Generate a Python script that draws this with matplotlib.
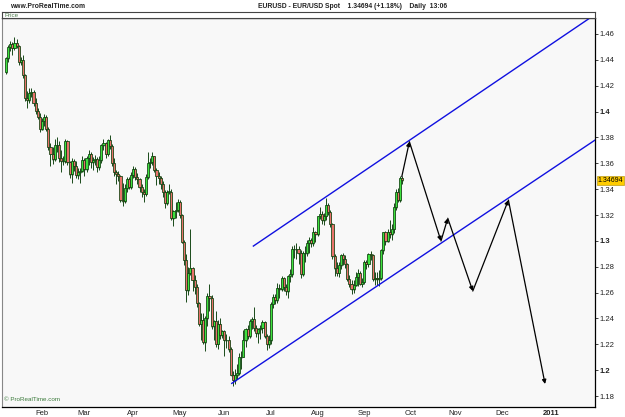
import matplotlib
matplotlib.use("Agg")
import matplotlib.pyplot as plt
import numpy as np
import pandas as pd

# ---------------- data ----------------
start_date = "2010-01-07"
end_date = "2010-09-27"

opens = [
    # Jan
    1.4305, 1.4415, 1.4500, 1.4520, 1.4495, 1.4530, 1.4505, 1.4385, 1.4400, 1.4280, 1.4105, 1.4090, 1.4140, 1.4150, 1.4070, 1.4005, 1.3960,
    # Feb
    1.3865, 1.3925, 1.3960, 1.3865, 1.3725, 1.3675, 1.3630, 1.3740, 1.3745, 1.3640, 1.3620, 1.3615, 1.3770, 1.3610, 1.3515, 1.3615, 1.3580, 1.3510, 1.3530, 1.3540,
    # Mar
    1.3625, 1.3555, 1.3640, 1.3675, 1.3610, 1.3625, 1.3630, 1.3570, 1.3625, 1.3740, 1.3755, 1.3675, 1.3780, 1.3735, 1.3600, 1.3530, 1.3520, 1.3500, 1.3315, 1.3310, 1.3410, 1.3480, 1.3415,
    # Apr
    1.3510, 1.3555, 1.3495, 1.3475, 1.3415, 1.3375, 1.3365, 1.3495, 1.3605, 1.3610, 1.3655, 1.3550, 1.3505, 1.3490, 1.3440, 1.3375, 1.3290, 1.3380, 1.3380, 1.3175, 1.3230, 1.3240,
    # May
    1.3300, 1.3200, 1.2990, 1.2855, 1.2620, 1.2755, 1.2790, 1.2700, 1.2640, 1.2520, 1.2360, 1.2390, 1.2215, 1.2400, 1.2570, 1.2560, 1.2340, 1.2380, 1.2205, 1.2360, 1.2270,
    # Jun
    1.2300, 1.2230, 1.2230, 1.2160, 1.1965, 1.1925, 1.1965, 1.1975, 1.2100, 1.2105, 1.2230, 1.2320, 1.2265, 1.2380, 1.2395, 1.2325, 1.2285, 1.2315, 1.2330, 1.2375, 1.2265, 1.2200,
    # Jul
    1.2230, 1.2515, 1.2565, 1.2545, 1.2635, 1.2625, 1.2710, 1.2640, 1.2610, 1.2725, 1.2745, 1.2935, 1.2940, 1.2935, 1.2905, 1.2745, 1.2910, 1.2905, 1.2980, 1.3010, 1.2985, 1.3065,
    # Aug
    1.3050, 1.3190, 1.3210, 1.3160, 1.3195, 1.3275, 1.3220, 1.3130, 1.2880, 1.2790, 1.2755, 1.2815, 1.2890, 1.2860, 1.2820, 1.2705, 1.2665, 1.2630, 1.2660, 1.2720, 1.2750, 1.2670,
    # Sep
    1.2685, 1.2835, 1.2825, 1.2895, 1.2890, 1.2705, 1.2715, 1.2705, 1.2710, 1.2930, 1.3065, 1.3000, 1.3065, 1.3050, 1.3095, 1.3260, 1.3375, 1.3315, 1.3490,
]
highs = [
    1.4425, 1.4515, 1.4545, 1.4540, 1.4580, 1.4560, 1.4515, 1.4420, 1.4440, 1.4290, 1.4160, 1.4180, 1.4185, 1.4170, 1.4105, 1.4030, 1.3990,
    1.3950, 1.3985, 1.3970, 1.3880, 1.3755, 1.3725, 1.3785, 1.3800, 1.3770, 1.3700, 1.3660, 1.3785, 1.3780, 1.3620, 1.3640, 1.3635, 1.3620, 1.3560, 1.3560, 1.3660,
    1.3640, 1.3660, 1.3700, 1.3690, 1.3650, 1.3665, 1.3645, 1.3660, 1.3750, 1.3790, 1.3765, 1.3790, 1.3820, 1.3750, 1.3640, 1.3545, 1.3540, 1.3510, 1.3450, 1.3440, 1.3495, 1.3495, 1.3530,
    1.3580, 1.3570, 1.3525, 1.3485, 1.3440, 1.3400, 1.3515, 1.3690, 1.3640, 1.3690, 1.3660, 1.3560, 1.3530, 1.3500, 1.3460, 1.3390, 1.3395, 1.3440, 1.3405, 1.3240, 1.3300, 1.3325,
    1.3320, 1.3210, 1.3010, 1.2900, 1.2800, 1.3094, 1.2800, 1.2740, 1.2670, 1.2530, 1.2440, 1.2440, 1.2420, 1.2600, 1.2670, 1.2580, 1.2390, 1.2455, 1.2390, 1.2400, 1.2310,
    1.2310, 1.2280, 1.2265, 1.2180, 1.1990, 1.2010, 1.2050, 1.2130, 1.2150, 1.2310, 1.2330, 1.2350, 1.2395, 1.2410, 1.2487, 1.2350, 1.2330, 1.2350, 1.2390, 1.2380, 1.2280, 1.2270,
    1.2530, 1.2590, 1.2590, 1.2675, 1.2665, 1.2730, 1.2720, 1.2665, 1.2735, 1.2780, 1.2960, 1.2970, 1.2985, 1.2960, 1.2930, 1.2920, 1.2960, 1.3010, 1.3030, 1.3020, 1.3110, 1.3080,
    1.3195, 1.3265, 1.3230, 1.3215, 1.3333, 1.3290, 1.3240, 1.3135, 1.2900, 1.2840, 1.2835, 1.2900, 1.2905, 1.2890, 1.2830, 1.2740, 1.2700, 1.2700, 1.2760, 1.2780, 1.2770, 1.2710,
    1.2850, 1.2850, 1.2910, 1.2920, 1.2895, 1.2760, 1.2760, 1.2775, 1.2940, 1.3070, 1.3080, 1.3090, 1.3160, 1.3130, 1.3290, 1.3400, 1.3410, 1.3500, 1.3500,
]
lows = [
    1.4290, 1.4380, 1.4470, 1.4440, 1.4475, 1.4490, 1.4360, 1.4360, 1.4260, 1.4080, 1.4030, 1.4070, 1.4110, 1.4040, 1.3980, 1.3940, 1.3840,
    1.3860, 1.3890, 1.3850, 1.3700, 1.3580, 1.3595, 1.3620, 1.3690, 1.3610, 1.3530, 1.3590, 1.3600, 1.3590, 1.3490, 1.3445, 1.3540, 1.3490, 1.3480, 1.3445, 1.3530,
    1.3500, 1.3530, 1.3590, 1.3560, 1.3550, 1.3590, 1.3530, 1.3550, 1.3600, 1.3700, 1.3640, 1.3660, 1.3710, 1.3580, 1.3500, 1.3440, 1.3460, 1.3300, 1.3270, 1.3295, 1.3380, 1.3400, 1.3405,
    1.3490, 1.3470, 1.3440, 1.3380, 1.3340, 1.3300, 1.3350, 1.3480, 1.3560, 1.3590, 1.3530, 1.3430, 1.3440, 1.3400, 1.3340, 1.3255, 1.3280, 1.3360, 1.3160, 1.3115, 1.3180, 1.3220,
    1.3180, 1.2980, 1.2815, 1.2530, 1.2580, 1.2740, 1.2610, 1.2590, 1.2490, 1.2340, 1.2235, 1.2200, 1.2145, 1.2340, 1.2460, 1.2320, 1.2235, 1.2180, 1.2160, 1.2240, 1.2250,
    1.2110, 1.2170, 1.2140, 1.1960, 1.1876, 1.1890, 1.1930, 1.1960, 1.2010, 1.2100, 1.2180, 1.2240, 1.2250, 1.2320, 1.2300, 1.2260, 1.2210, 1.2240, 1.2290, 1.2250, 1.2155, 1.2170,
    1.2200, 1.2480, 1.2510, 1.2520, 1.2560, 1.2610, 1.2610, 1.2580, 1.2560, 1.2680, 1.2720, 1.2870, 1.2860, 1.2820, 1.2710, 1.2730, 1.2840, 1.2880, 1.2910, 1.2950, 1.2960, 1.2990,
    1.3040, 1.3170, 1.3130, 1.3120, 1.3160, 1.3200, 1.3110, 1.2860, 1.2730, 1.2730, 1.2720, 1.2780, 1.2810, 1.2790, 1.2690, 1.2640, 1.2588, 1.2600, 1.2650, 1.2650, 1.2660, 1.2640,
    1.2670, 1.2780, 1.2800, 1.2850, 1.2690, 1.2660, 1.2660, 1.2650, 1.2700, 1.2900, 1.2970, 1.2990, 1.3020, 1.3010, 1.3060, 1.3240, 1.3300, 1.3300, 1.3440,
]
closes = [
    1.4415, 1.4500, 1.4520, 1.4495, 1.4530, 1.4505, 1.4385, 1.4400, 1.4280, 1.4105, 1.4090, 1.4140, 1.4150, 1.4070, 1.4005, 1.3960, 1.3865,
    1.3925, 1.3960, 1.3865, 1.3725, 1.3675, 1.3630, 1.3740, 1.3745, 1.3640, 1.3620, 1.3615, 1.3770, 1.3610, 1.3515, 1.3615, 1.3580, 1.3510, 1.3530, 1.3540, 1.3625,
    1.3555, 1.3640, 1.3675, 1.3610, 1.3625, 1.3630, 1.3570, 1.3625, 1.3740, 1.3755, 1.3675, 1.3780, 1.3735, 1.3600, 1.3530, 1.3520, 1.3500, 1.3315, 1.3310, 1.3410, 1.3480, 1.3415, 1.3510,
    1.3555, 1.3495, 1.3475, 1.3415, 1.3375, 1.3365, 1.3495, 1.3605, 1.3610, 1.3655, 1.3550, 1.3505, 1.3490, 1.3440, 1.3375, 1.3290, 1.3380, 1.3380, 1.3175, 1.3230, 1.3240, 1.3300,
    1.3200, 1.2990, 1.2855, 1.2620, 1.2755, 1.2790, 1.2700, 1.2640, 1.2520, 1.2360, 1.2390, 1.2215, 1.2400, 1.2570, 1.2560, 1.2340, 1.2380, 1.2205, 1.2360, 1.2270, 1.2300,
    1.2230, 1.2230, 1.2160, 1.1965, 1.1925, 1.1965, 1.1975, 1.2100, 1.2105, 1.2230, 1.2320, 1.2265, 1.2380, 1.2395, 1.2325, 1.2285, 1.2315, 1.2330, 1.2375, 1.2265, 1.2200, 1.2230,
    1.2515, 1.2565, 1.2545, 1.2635, 1.2625, 1.2710, 1.2640, 1.2610, 1.2725, 1.2745, 1.2935, 1.2940, 1.2935, 1.2905, 1.2745, 1.2910, 1.2905, 1.2980, 1.3010, 1.2985, 1.3065, 1.3050,
    1.3190, 1.3210, 1.3160, 1.3195, 1.3275, 1.3220, 1.3130, 1.2880, 1.2790, 1.2755, 1.2815, 1.2890, 1.2860, 1.2820, 1.2705, 1.2665, 1.2630, 1.2660, 1.2720, 1.2750, 1.2670, 1.2685,
    1.2835, 1.2825, 1.2895, 1.2890, 1.2705, 1.2715, 1.2705, 1.2710, 1.2930, 1.3065, 1.3000, 1.3065, 1.3050, 1.3095, 1.3260, 1.3375, 1.3315, 1.3490, 1.3469,
]

# channel lines (bar index, price)
upper_channel_x = [120.7, 281.9]
upper_channel_y = [1.2960, 1.4751]
lower_channel_x = [110.5, 281.9]
lower_channel_y = [1.1898, 1.3780]

# projected path (bar index, price)
path_x = [190.7, 194.3, 209.2, 212.4, 224.2, 241.0, 258.3]
path_y = [1.3496, 1.3767, 1.2999, 1.3175, 1.2612, 1.3316, 1.1893]

month_labels = ["Feb", "Mar", "Apr", "May", "Jun", "Jul", "Aug", "Sep", "Oct", "Nov", "Dec", "2011"]
month_dates = ["2010-02-01", "2010-03-01", "2010-04-01", "2010-05-03", "2010-06-01", "2010-07-01",
               "2010-08-02", "2010-09-01", "2010-10-01", "2010-11-01", "2010-12-01", "2011-01-03"]
ytick_vals = [1.18, 1.20, 1.22, 1.24, 1.26, 1.28, 1.30, 1.32, 1.34, 1.36, 1.38, 1.40, 1.42, 1.44, 1.46]
last_price = 1.34694
title_text = "EURUSD - EUR/USD Spot    1.34694 (+1.18%)    Daily  13:06"

# ---------------- layout ----------------
calendar = pd.bdate_range("2010-01-01", "2011-03-31")
pos = {d: i for i, d in enumerate(calendar)}
bar_dates = pd.bdate_range(start_date, end_date)
xs = np.array([pos[d] for d in bar_dates], dtype=float)
o = np.array(opens); h = np.array(highs); l = np.array(lows); c = np.array(closes)

plt.rcParams['font.family'] = ['Liberation Sans', 'DejaVu Sans']
W, H = 625, 417
fig = plt.figure(figsize=(W / 100, H / 100), dpi=100)
fig.patch.set_facecolor("white")

ax = fig.add_axes([2 / W, 10 / H, 593 / W, 389 / H])
ax.set_facecolor("#f8f8f8")
ax.set_xlim(2.13, 281.85)
ax.set_ylim(1.17153, 1.47237)

# candles
up = c >= o
body_lo = np.minimum(o, c)
body_h = np.maximum(np.abs(c - o), 0.0005)
ax.bar(xs + 0.45, body_h + 0.0008, bottom=body_lo - 0.0014, width=1.0, color="#8aa88a", alpha=0.45,
       linewidth=0, zorder=1)
ax.vlines(xs, l, h, color="#1a4a1a", linewidth=0.7, zorder=2)
ax.bar(xs[up], body_h[up], bottom=body_lo[up], width=1.0, color="#3ee23e",
       edgecolor="#0d400d", linewidth=0.55, zorder=3)
ax.bar(xs[~up], body_h[~up], bottom=body_lo[~up], width=1.0, color="#e8726a",
       edgecolor="#0d400d", linewidth=0.55, zorder=3)

# channels
ax.plot(upper_channel_x, upper_channel_y, color="#1010e0", linewidth=1.0, zorder=4)
ax.plot(lower_channel_x, lower_channel_y, color="#1010e0", linewidth=1.0, zorder=4)

# projection arrows
for i in range(len(path_x) - 1):
    ax.annotate("", xy=(path_x[i + 1], path_y[i + 1]), xytext=(path_x[i], path_y[i]),
                arrowprops=dict(arrowstyle="-|>", color="black", lw=0.9,
                                mutation_scale=6, shrinkA=0, shrinkB=0), zorder=5)

# y axis on right
ax.yaxis.tick_right()
ax.set_yticks(ytick_vals)
ylabels = []
for v in ytick_vals:
    if abs(v * 10 - round(v * 10)) < 1e-9:
        ylabels.append(f"{v:.1f}")
    else:
        ylabels.append(f"{v:.2f}")
ax.set_yticklabels(ylabels)
for v, t in zip(ytick_vals, ax.get_yticklabels()):
    t.set_fontsize(5.5)
    t.set_color("#222222")
    if abs(v * 10 - round(v * 10)) < 1e-9:
        t.set_fontweight("bold")
ax.tick_params(axis="y", direction="out", length=2, width=0.6, pad=1, colors="#222222")

# x axis
mx = [pos[pd.Timestamp(d)] for d in month_dates]
ax.set_xticks(mx)
ax.set_xticklabels(month_labels)
for lab, t in zip(month_labels, ax.get_xticklabels()):
    t.set_fontsize(5.5)
    t.set_color("#222222")
    if lab == "2011":
        t.set_fontweight("bold")
ax.tick_params(axis="x", length=0, pad=2)

for s in ["top", "right", "bottom"]:
    ax.spines[s].set_color("black")
    ax.spines[s].set_linewidth(0.9)
ax.spines["left"].set_color("#888888")
ax.spines["left"].set_linewidth(0.8)

# last price tag
ax.annotate(f"{last_price:.5f}", xy=(1.0, last_price), xycoords=("axes fraction", "data"),
            xytext=(2, 0), textcoords="offset points", fontsize=5, va="center", ha="left",
            color="black",
            bbox=dict(boxstyle="square,pad=0.15", facecolor="#ffcc00", edgecolor="#aa8800", linewidth=0.4),
            annotation_clip=False, zorder=10)

# header pane strip
hax = fig.add_axes([2 / W, 1 - 18 / H, 593 / W, 6 / H])
hax.set_facecolor("white")
hax.set_xticks([]); hax.set_yticks([])
for s in hax.spines.values():
    s.set_linewidth(0.8)
    s.set_color("#444444")
hax.text(0.004, 0.45, "Price", transform=hax.transAxes, fontsize=4.5, color="#4d7a4d",
         va="center", ha="left")

# texts
fig.text(10 / W, 1 - 7 / H, "www.ProRealTime.com", fontsize=4.9, fontweight="bold",
         color="#222222", va="center", ha="left")
fig.text(353 / W, 1 - 7 / H, title_text, fontsize=4.9, fontweight="bold",
         color="#222222", va="center", ha="center")
ax.text(0.004, 0.012, "© ProRealTime.com", transform=ax.transAxes, fontsize=4.5,
        color="#3a7a3a", va="bottom", ha="left")

fig.savefig("out.png", dpi=100, facecolor="white")
